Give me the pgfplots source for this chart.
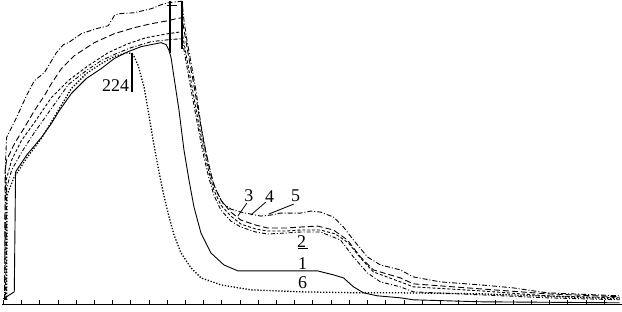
\documentclass[border=0pt]{standalone}
\usepackage{pgfplots}
\pgfplotsset{compat=1.18}
\usepackage{fontspec}
\setmainfont{Liberation Serif}
\begin{document}
\begin{tikzpicture}
\begin{axis}[
 width=622pt, height=305pt, scale only axis,
 xmin=0, xmax=622, ymin=2, ymax=307,
 axis x line=bottom, axis y line=none, x axis line style={-, line width=0.9pt},
 xtick={1.7,19.97,...,623.5}, xticklabels={}, ytick=\empty,
 tick align=inside, major tick length=5pt,
 every tick/.style={black, line width=0.8pt},
 clip=false,
]
% curve 1 (solid)
\addplot[black, line width=0.9pt] table[y expr=307-\thisrow{y}] {
x y
1.7 299
12.7 292
14 172
15 170
25 155
40 137
50 123
58 110
70 93
85 78
100 68
113 58
127 51
140 46
160 42
165 44
168 50
170 57
173 77
178 110
183 150
188 180
193 207
200 233
210 253
223 265
237 271
267 271
317 271
333 275
343 278
353 287
363 293
377 296
400 298
413 300
480 302
620 303
};
% curve 6 (dotted)
\addplot[black, line width=1.3pt, dash pattern=on 1.3pt off 1.7pt] table[y expr=307-\thisrow{y}] {
x y
5 300
5.5 195
12 178
25 158
40 138
55 113
70 88
85 73
100 63
113 56
122 53
127 52
132 54
137 65
143 87
147 110
152 140
157 167
162 192
167 213
173 235
180 253
190 268
200 278
220 285
250 290
300 292
360 293
400 293
480 294
620 299
};
% curve 2
\addplot[black, line width=0.9pt, dash pattern=on 4pt off 2pt on 1pt off 2pt] table[y expr=307-\thisrow{y}] {
x y
4.5 300
5 188
10 170
20 152
33 132
50 108
67 84
85 70
100 60
115 53
130 47
150 41
168 39
181 38
184 55
188 78
193 105
198 132
203 157
208 178
213 195
220 210
230 221
240 227
255 232
267 234
285 233
300 232
320 232
340 240
353 257
367 273
380 282
400 287
413 292
480 295
547 298
620 300
};
% curve 3
\addplot[black, line width=0.9pt, dash pattern=on 3pt off 2pt] table[y expr=307-\thisrow{y}] {
x y
4 300
4.5 180
10 160
20 140
33 122
50 97
67 80
87 65
107 52
127 43
145 37
167 33
181 31
184 48
188 70
193 97
198 125
203 150
208 172
213 190
220 205
230 216
240 224
255 229
267 231
285 231
300 230
320 230
335 234
348 243
360 258
373 272
400 282
413 287
480 291
547 296
620 298
};
% curve 4
\addplot[black, line width=0.9pt, dash pattern=on 6pt off 3pt] table[y expr=307-\thisrow{y}] {
x y
3 300
3.5 170
5 160
13 143
23 127
33 110
43 95
50 83
60 68
73 55
93 42
113 33
133 27
150 23
167 20
175 18
181 17
184 35
188 58
193 85
198 115
203 143
208 165
213 185
220 200
230 212
240 220
255 225
267 228
285 228
300 227
317 226
333 230
347 240
360 257
373 270
400 278
413 284
480 289
547 294
620 297
};
% curve 5
\addplot[black, line width=0.9pt, dash pattern=on 5pt off 2pt on 1pt off 2pt] table[y expr=307-\thisrow{y}] {
x y
3 300
4 160
5 137
15 117
25 95
33 80
43 72
55 52
62 44
67 42
80 33
95 28
107 25
113 15
117 13
133 12
150 8
160 4
167 2
175 1
181 0.5
183 20
186 40
190 62
195 90
200 125
205 152
210 175
215 190
222 203
230 209
240 212
250 214
260 216
270 215
280 213
300 213
310 211
320 212
333 217
343 227
353 240
367 257
380 265
400 270
413 277
440 282
480 285
513 288
547 293
620 296
};
% marker lines
\draw[black, line width=1.6pt] (axis cs:131,255) -- (axis cs:131,215);
\draw[black, line width=1.6pt] (axis cs:169,307) -- (axis cs:169,255);
\draw[black, line width=1.6pt] (axis cs:181,307) -- (axis cs:181,259);
\draw[black, line width=0.8pt] (axis cs:166,302) -- (axis cs:176,302);
% leader lines
\draw[black, line width=0.8pt] (axis cs:246,104) -- (axis cs:237,91);
\draw[black, line width=0.8pt] (axis cs:265,105) -- (axis cs:250,92);
\draw[black, line width=0.8pt] (axis cs:293,103) -- (axis cs:268,93);
\draw[black, line width=0.8pt] (axis cs:297,59) -- (axis cs:307,59);
% labels
\node[font=\fontsize{18}{18}\selectfont, inner sep=0pt, anchor=east] at (axis cs:128,222) {224};
\node[font=\fontsize{18}{18}\selectfont, inner sep=0pt] at (axis cs:248,111) {3};
\node[font=\fontsize{18}{18}\selectfont, inner sep=0pt] at (axis cs:269,111) {4};
\node[font=\fontsize{18}{18}\selectfont, inner sep=0pt] at (axis cs:295,111) {5};
\node[font=\fontsize{18}{18}\selectfont, inner sep=0pt] at (axis cs:301,65) {2};
\node[font=\fontsize{18}{18}\selectfont, inner sep=0pt] at (axis cs:302,43) {1};
\node[font=\fontsize{18}{18}\selectfont, inner sep=0pt] at (axis cs:302,24) {6};
\path (axis cs:0,0) rectangle (axis cs:622,307);
\end{axis}
\end{tikzpicture}
\end{document}
